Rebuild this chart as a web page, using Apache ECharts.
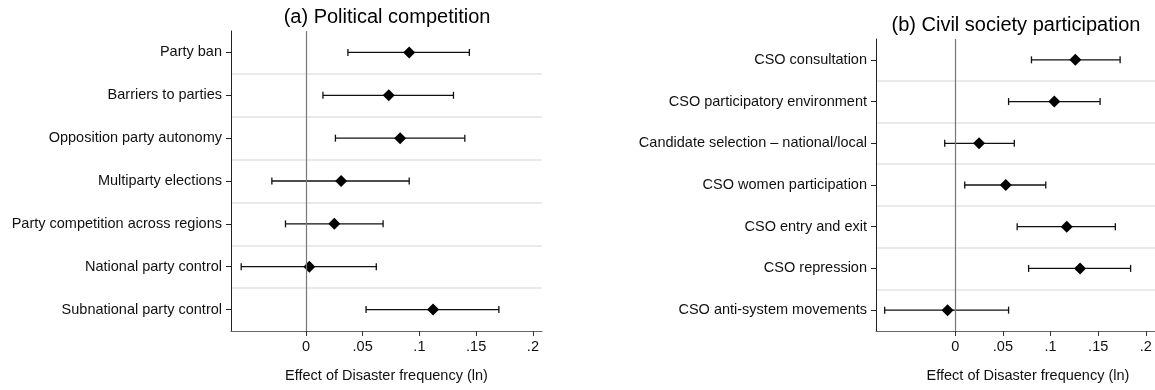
<!DOCTYPE html>
<html><head><meta charset="utf-8">
<script src="https://cdn.jsdelivr.net/npm/echarts@6/dist/echarts.min.js"></script>
<style>html,body{margin:0;padding:0;background:#fff}#c{width:1155px;height:390px}</style>
</head><body><div id="c"></div>
<script>
// Panel (a) Political competition
const catsA = ['Party ban','Barriers to parties','Opposition party autonomy','Multiparty elections','Party competition across regions','National party control','Subnational party control'];
const estA  = [0.091, 0.073, 0.083, 0.031, 0.025, 0.003, 0.112];
const lowA  = [0.037, 0.015, 0.026, -0.030, -0.018, -0.057, 0.053];
const highA = [0.144, 0.130, 0.140, 0.091, 0.068, 0.062, 0.170];
// Panel (b) Civil society participation
const catsB = ['CSO consultation','CSO participatory environment','Candidate selection \u2013 national/local','CSO women participation','CSO entry and exit','CSO repression','CSO anti-system movements'];
const estB  = [0.126, 0.104, 0.025, 0.053, 0.117, 0.131, -0.008];
const lowB  = [0.080, 0.056, -0.011, 0.010, 0.065, 0.077, -0.074];
const highB = [0.173, 0.152, 0.062, 0.095, 0.168, 0.184, 0.056];
// x-axis ticks
const tickVals = [0, 0.05, 0.1, 0.15, 0.2];
const tickLabels = ['0', '.05', '.1', '.15', '.2'];
const titles = ['(a) Political competition', '(b) Civil society participation'];
const xName = 'Effect of Disaster frequency (ln)';

const FONT = '"Liberation Sans", Arial, Helvetica, sans-serif';
const FS = 14.5;
const chart = echarts.init(document.getElementById('c'), null, {renderer: 'canvas'});

function fmt(v) {
  for (let i = 0; i < tickVals.length; i++) if (Math.abs(tickVals[i] - v) < 1e-9) return tickLabels[i];
  return '';
}
function xAx(idx, min, max, namePad) {
  return {
    type: 'value', gridIndex: idx, min: min, max: max,
    axisLine: {show: true, onZero: false, lineStyle: {color: '#666', width: 1}},
    axisTick: {show: true, length: 5, customValues: tickVals, lineStyle: {color: '#333', width: 1}},
    axisLabel: {customValues: tickVals, formatter: fmt, margin: 8, fontSize: FS, color: '#111', fontFamily: FONT},
    splitLine: {show: false},
    name: xName, nameLocation: 'middle', nameGap: 37,
    nameTextStyle: {fontSize: FS, color: '#111', fontFamily: FONT, padding: namePad}
  };
}
function yAx(idx, cats) {
  return {
    type: 'category', gridIndex: idx, data: cats, inverse: true,
    axisLine: {show: true, onZero: false, lineStyle: {color: '#222', width: 1}},
    axisTick: {show: true, alignWithLabel: true, length: 5, lineStyle: {color: '#222', width: 1}},
    axisLabel: {interval: 0, margin: 9, fontSize: FS, color: '#111', fontFamily: FONT},
    splitLine: {show: true, showMinLine: false, showMaxLine: false, lineStyle: {color: '#e3e3e3', width: 1.5}}
  };
}
function errSeries(idx, low, high) {
  return {
    type: 'custom', xAxisIndex: idx, yAxisIndex: idx, silent: true, z: 2,
    data: low.map((v, i) => [v, high[i], i]),
    encode: {x: [0, 1], y: 2},
    renderItem: function (params, api) {
      const p1 = api.coord([api.value(0), api.value(2)]);
      const p2 = api.coord([api.value(1), api.value(2)]);
      const h = 3.5;
      const st = {stroke: '#111', lineWidth: 1.3};
      return {type: 'group', children: [
        {type: 'line', shape: {x1: p1[0], y1: p1[1], x2: p2[0], y2: p2[1]}, style: st},
        {type: 'line', shape: {x1: p1[0], y1: p1[1] - h, x2: p1[0], y2: p1[1] + h}, style: st},
        {type: 'line', shape: {x1: p2[0], y1: p2[1] - h, x2: p2[0], y2: p2[1] + h}, style: st}
      ]};
    }
  };
}
function ptSeries(idx, est) {
  return {
    type: 'scatter', xAxisIndex: idx, yAxisIndex: idx, z: 3, silent: true,
    symbol: 'diamond', symbolSize: 12,
    itemStyle: {color: '#000', opacity: 1},
    data: est.map((v, i) => [v, i]),
    markLine: {
      silent: true, symbol: 'none', label: {show: false},
      lineStyle: {color: '#777', type: 'solid', width: 1.2, opacity: 1},
      data: [{xAxis: 0}], animation: false
    }
  };
}

chart.setOption({
  animation: false,
  backgroundColor: '#fff',
  textStyle: {fontFamily: FONT},
  title: [
    {text: titles[0], left: 387, top: 7, textAlign: 'center', padding: 0,
     textStyle: {fontSize: 20, fontWeight: 'normal', color: '#000', fontFamily: FONT}},
    {text: titles[1], left: 1016, top: 15, textAlign: 'center', padding: 0,
     textStyle: {fontSize: 20, fontWeight: 'normal', color: '#000', fontFamily: FONT}}
  ],
  grid: [
    {left: 231, top: 31, width: 311, height: 300, containLabel: false},
    {left: 876, top: 39, right: 0, height: 292, containLabel: false}
  ],
  xAxis: [xAx(0, -0.066, 0.208, 0), xAx(1, -0.0831, 0.2096, [0, 0, 0, 25])],
  yAxis: [yAx(0, catsA), yAx(1, catsB)],
  series: [
    errSeries(0, lowA, highA), ptSeries(0, estA),
    errSeries(1, lowB, highB), ptSeries(1, estB)
  ]
});
</script>
</body></html>
